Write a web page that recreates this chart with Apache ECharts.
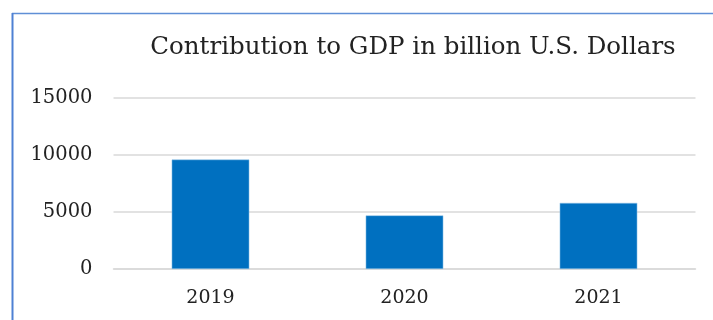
<!DOCTYPE html>
<html><head><meta charset="utf-8">
<script src="https://cdn.jsdelivr.net/npm/echarts@6/dist/echarts.min.js"></script>
<style>html,body{margin:0;padding:0;background:#fff}#c{width:713px;height:320px}</style>
</head><body><div id="c"></div>
<script>
const categories = ['2019', '2020', '2021'];
const values = [9600, 4700, 5800];
const yTicks = [0, 5000, 10000, 15000];
const titleText = 'Contribution to GDP in billion U.S. Dollars';

const chart = echarts.init(document.getElementById('c'), null, {renderer: 'canvas'});
chart.setOption({
  animation: false,
  backgroundColor: '#fff',
  title: {
    text: titleText,
    left: 408, top: 30, textAlign: 'center',
    textStyle: {fontFamily: 'DejaVu Serif', fontSize: 24.5, fontWeight: 'normal', color: '#222'}
  },
  grid: {left: 113.5, right: 17.5, top: 98, bottom: 51, containLabel: false},
  xAxis: {
    type: 'category', data: categories,
    axisLine: {show: true, lineStyle: {color: '#d9d9d9', width: 1.5}},
    axisTick: {show: false},
    axisLabel: {fontFamily: 'DejaVu Serif', fontSize: 19, color: '#222', margin: 20}
  },
  yAxis: {
    type: 'value', min: yTicks[0], max: yTicks[yTicks.length - 1], interval: 5000,
    axisLine: {show: false}, axisTick: {show: false},
    splitLine: {lineStyle: {color: '#d9d9d9', width: 1.5}},
    axisLabel: {fontFamily: 'DejaVu Serif', fontSize: 19.5, color: '#222', margin: 21,
      formatter: v => String(v)}
  },
  series: [{
    type: 'bar', data: values, barWidth: '40%',
    itemStyle: {color: '#0070C0', borderColor: '#9cc8ea', borderWidth: 0.5}
  }],
  graphic: [
    {type: 'line', shape: {x1: 12, y1: 13.5, x2: 713, y2: 13.5}, style: {stroke: '#5f8fd6', lineWidth: 1.5}},
    {type: 'line', shape: {x1: 12.5, y1: 13, x2: 12.5, y2: 320}, style: {stroke: '#4f81d4', lineWidth: 2}}
  ]
});
</script></body></html>
